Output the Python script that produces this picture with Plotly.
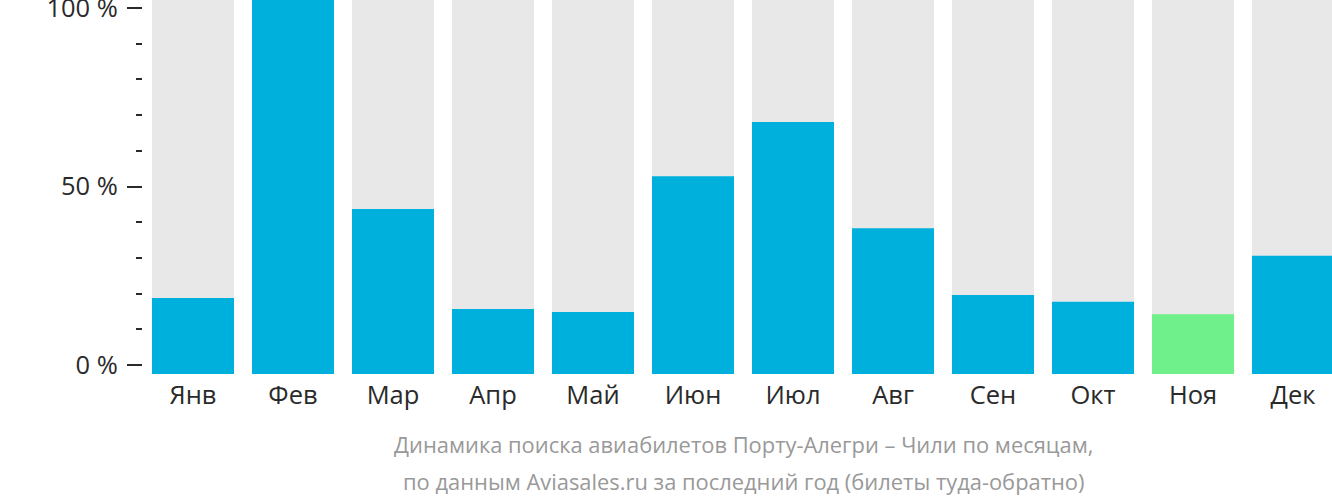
import plotly.graph_objects as go

months = ["Янв", "Фев", "Мар", "Апр", "Май", "Июн", "Июл", "Авг", "Сен", "Окт", "Ноя", "Дек"]
values = [20.3, 100, 44.1, 17.4, 16.6, 52.9, 67.4, 39.0, 21.1, 19.3, 16.0, 31.6]
highlight = "Ноя"
background = [100] * len(months)
tick_vals = [0, 50, 100]
tick_text = ["0 %", "50 %", "100 %"]
caption = ["Динамика поиска авиабилетов Порту-Алегри – Чили по месяцам,",
           "по данным Aviasales.ru за последний год (билеты туда-обратно)"]

BLUE = "#00b0dc"
GREEN = "#6ff08a"
GREY = "#e8e8e8"

colors = [GREEN if m == highlight else BLUE for m in months]

fig = go.Figure()
fig.add_trace(go.Bar(x=months, y=background, marker=dict(color=GREY, line=dict(width=0)),
                     hoverinfo="skip", showlegend=False))
fig.add_trace(go.Bar(x=months, y=values, marker=dict(color=colors, line=dict(width=0)),
                     showlegend=False))
fig.add_trace(go.Scatter(x=[months[0]], y=[0], yaxis="y2", mode="markers",
                         marker=dict(opacity=0), hoverinfo="skip", showlegend=False))

fig.update_layout(
    width=1332, height=502,
    margin=dict(l=143, r=0, t=0, b=128, autoexpand=False),
    barmode="overlay", bargap=0.18,
    paper_bgcolor="white", plot_bgcolor="white",
    font=dict(family="Open Sans", size=26, color="#2a2a2a"),
    xaxis=dict(type="category", range=[-0.5, 11.39], showgrid=False, zeroline=False,
               showline=False, ticks="", automargin=False, ticklabelstandoff=3,
               tickfont=dict(size=25.5, color="#2a2a2a")),
    yaxis=dict(range=[0, 100], visible=False, fixedrange=True, automargin=False),
    yaxis2=dict(overlaying="y", side="left", range=[-2.52, 102.24], automargin=False,
                tickvals=tick_vals, ticktext=tick_text, ticks="outside", ticklen=15,
                tickwidth=2, tickcolor="#2a2a2a", showgrid=False, zeroline=False,
                showline=False, ticklabelstandoff=4, ticklabeloverflow="allow",
                tickfont=dict(size=25.5, color="#2a2a2a"),
                minor=dict(tickvals=[10, 20, 30, 40, 60, 70, 80, 90], ticks="outside",
                           ticklen=6, tickwidth=2, tickcolor="#2a2a2a", showgrid=False)),
    annotations=[
        dict(text=caption[0], xref="x", yref="paper", x=5.5, y=-0.189, yanchor="middle",
             showarrow=False, font=dict(size=21.9, color="#999999")),
        dict(text=caption[1], xref="x", yref="paper", x=5.5, y=-0.288, yanchor="middle",
             showarrow=False, font=dict(size=21.9, color="#999999")),
    ],
)

fig.write_html("out.html", config={"displayModeBar": False},
               post_script="document.body.style.margin='0';document.body.style.padding='0';")
